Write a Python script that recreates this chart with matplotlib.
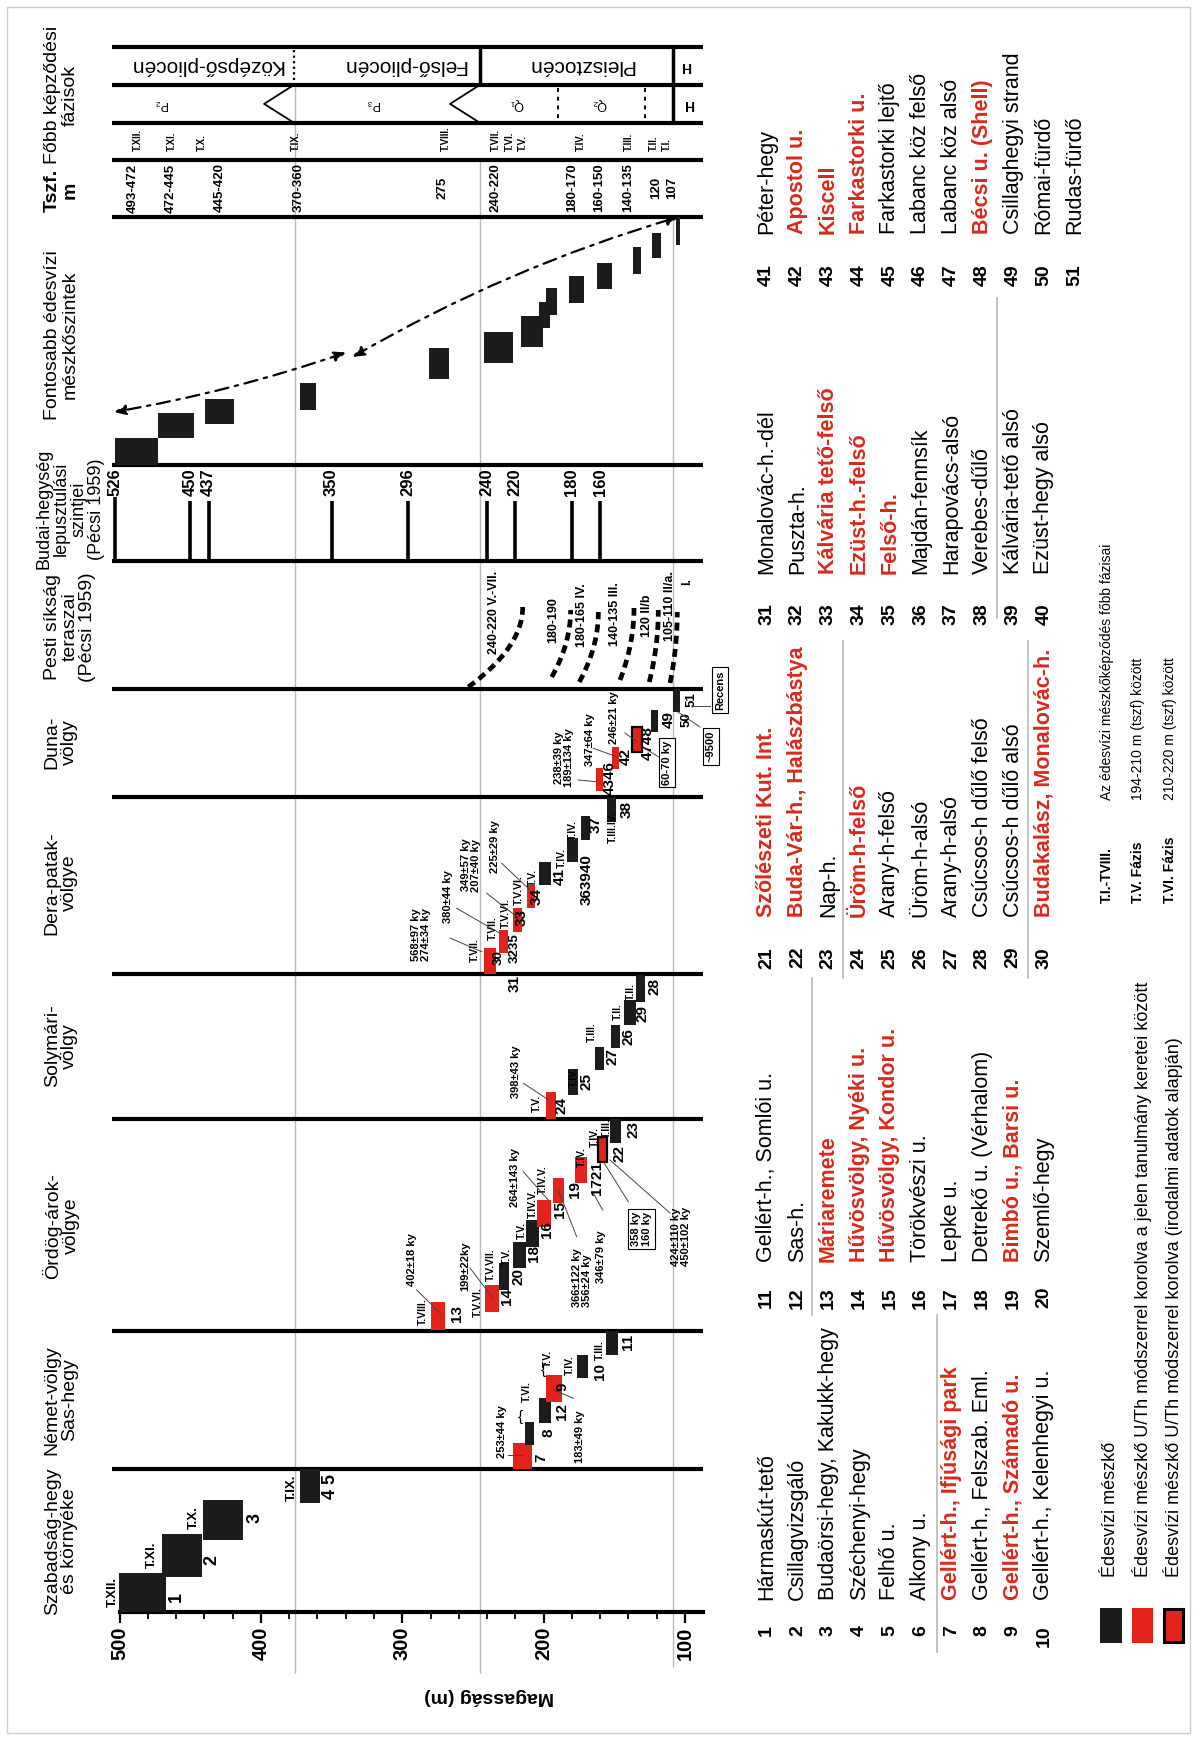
import matplotlib
matplotlib.use("Agg")
import matplotlib.pyplot as plt
from matplotlib.patches import Rectangle
import numpy as np

plt.rcParams["font.family"] = ["Liberation Sans", "DejaVu Sans"]

BLACK = "#1c1c1c"
RED = "#e3231b"
TXT_RED = "#d52b1e"
GRID = "#b8b8b8"

# ---------------------------------------------------------------------------
# édesvízi mészkő előfordulások (m tszf.)
# k = nem korolt, r = U/Th korolt (jelen munka), rb = U/Th korolt (irodalom)
site_ids = ["1", "2", "3", "4 5",
            "7", "8", "12", "9", "10", "11",
            "13", "14", "20", "18", "16", "15", "19", "17 21", "22", "23",
            "24", "25", "27", "26", "29", "28",
            "30 31", "32 35", "33", "34", "41", "36 39 40", "37", "38",
            "43 46", "42", "47 48", "49", "50 51"]
site_low = [467, 442, 413, 358,
            208.5, 207, 194.5, 187, 168.5, 147.5,
            270, 231.5, 224.5, 212.5, 203, 194.5, 185.5, 169, 155.5, 145,
            191, 176, 157.5, 146, 134.5, 128.5,
            234, 225.5, 215.5, 206, 194.5, 176, 167, 149,
            158, 146.5, 130.5, 119, 103.5]
site_high = [500, 470, 441, 372,
             222, 213.5, 203, 198, 176.5, 156,
             280, 241.5, 231.5, 222, 212.5, 205, 193.5, 178, 161.5, 153,
             198.5, 182.5, 164, 152.5, 143, 134.5,
             242, 231.5, 221.5, 211.5, 203, 183.5, 173.5, 155.5,
             163, 152, 137.5, 124, 108.5]
site_kind = ["k", "k", "k", "k",
             "r", "k", "k", "r", "k", "k",
             "r", "r", "k", "k", "k", "r", "r", "r", "rb", "k",
             "r", "k", "k", "k", "k", "k",
             "r", "r", "r", "r", "k", "k", "k", "k",
             "r", "r", "rb", "k", "k"]

# fontosabb mészkőszintek
level_low = [472.5, 447.5, 419, 361, 267, 221.5, 200.5, 195.5, 190.5, 171.5, 152, 131, 117, 103.5]
level_high = [503, 472.5, 439.5, 372, 281, 242, 216, 203, 198, 182, 162.5, 137, 123.5, 106.5]

# Budai-hegység lepusztulási szintjei (Pécsi 1959)
budai_levels = [526, 450, 437, 350, 296, 240, 220, 180, 160]
SCALE_TOP = 503.5   # a skála bal széle; az e fölötti szint a keret szélére kerül

# Pesti síkság teraszai: felső és alsó vég magassága
terrace_names = ["240-220 V.-VII.", "180-190", "180-165 IV.", "140-135 III.", "120 II/b", "105-110 II/a."]
terrace_from = [253.3, 194.3, 174.8, 146.0, 125.3, 110.6]
terrace_to = [214.8, 180.9, 161.3, 136.1, 118.9, 105.5]

# Tszf. magasságok és fázisok
tszf_text = ["493-472", "472-445", "445-420", "370-360", "275", "240-220",
             "180-170", "160-150", "140-135", "120", "107"]
tszf_elev = [490.5, 463.7, 429.3, 373.5, 271.8, 234.4, 180.2, 160.7, 140.3, 120.1, 108.8]
phase_text = ["T.XII.", "T.XI.", "T.X.", "T.IX.", "T.VIII.", "T.VII.", "T.VI.",
              "T.V.", "T.IV.", "T.III.", "T.II.", "T.I."]
phase_elev = [487.1, 462.9, 441.6, 375.2, 269.5, 233.8, 224.1, 215.0, 173.7, 139.6, 121.7, 112.9]

# lelőhelyek
places = ["Hármaskút-tető", "Csillagvizsgáló", "Budaörsi-hegy, Kakukk-hegy", "Széchenyi-hegy",
          "Felhő u.", "Alkony u.", "Gellért-h., Ifjúsági park", "Gellért-h., Felszab. Eml.",
          "Gellért-h., Számadó u.", "Gellért-h., Kelenhegyi u.",
          "Gellért-h., Somlói u.", "Sas-h.", "Máriaremete", "Hűvösvölgy, Nyéki u.",
          "Hűvösvölgy, Kondor u.", "Törökvészi u.", "Lepke u.", "Detrekő u. (Vérhalom)",
          "Bimbó u., Barsi u.", "Szemlő-hegy",
          "Szőlészeti Kut. Int.", "Buda-Vár-h., Halászbástya", "Nap-h.", "Üröm-h-felső",
          "Arany-h-felső", "Üröm-h-alsó", "Arany-h-alsó", "Csúcsos-h dűlő felső",
          "Csúcsos-h dűlő alsó", "Budakalász, Monalovác-h.",
          "Monalovác-h.-dél", "Puszta-h.", "Kálvária tető-felső", "Ezüst-h.-felső",
          "Felső-h.", "Majdán-fennsík", "Harapovács-alsó", "Verebes-dűlő",
          "Kálvária-tető alsó", "Ezüst-hegy alsó",
          "Péter-hegy", "Apostol u.", "Kiscell", "Farkastorki u.", "Farkastorki lejtő",
          "Labanc köz felső", "Labanc köz alsó", "Bécsi u. (Shell)", "Csillaghegyi strand",
          "Római-fürdő", "Rudas-fürdő"]
dated_places = [7, 9, 13, 14, 15, 19, 21, 22, 24, 30, 33, 34, 35, 42, 43, 44, 48]

# ---------------------------------------------------------------------------
# elrendezés (px, felülről)
W, H = 1195, 1738
X500, PX_M = 119.5, 1.4138
E_LEFT = 500 + X500 / PX_M
E_RIGHT = 500 - (W - X500) / PX_M
Y_AXIS = 1611.7
E_END = 87.6

site_top = [1573, 1534, 1500, 1469,
            1443, 1422, 1398, 1375, 1355, 1331,
            1302, 1285, 1263, 1242, 1220, 1200, 1178, 1157, 1137, 1119,
            1092, 1069, 1047, 1025, 1000, 975,
            948, 930, 908, 885, 862, 838, 816, 797,
            768, 747, 727, 710, 689]
site_bot = [1612, 1577, 1540, 1503,
            1469, 1445, 1423, 1402, 1378, 1355,
            1330, 1312, 1290, 1268, 1247, 1227, 1203, 1183, 1162, 1143,
            1119, 1095, 1070, 1048, 1025, 1002,
            974, 953, 932, 908, 885, 862, 840, 822,
            791, 769, 752, 732, 712]
level_top = [438, 413, 399, 383, 348, 332, 316, 302, 288, 276, 263, 247, 233, 217]
level_bot = [465, 438, 424, 410, 379, 363, 347, 328, 315, 303, 289, 274, 258, 245]
terrace_y0 = [687, 677, 682, 680, 682, 683]
terrace_y1 = [607, 610, 612, 608, 610, 612]

separators = [46.7, 85, 122.7, 160, 216.7, 465, 560.7, 688.5, 796.7, 974, 1118.5, 1331, 1468.5]

fig = plt.figure(figsize=(W / 100, H / 100), dpi=100)
fig.patch.set_facecolor("white")
ax = fig.add_axes([0, 0, 1, 1])
ax.set_xlim(E_LEFT, E_RIGHT)
ax.set_ylim(H, 0)
ax.patch.set_visible(False)
for s in ("top", "left", "right"):
    ax.spines[s].set_visible(False)
ax.spines["bottom"].set_position(("data", Y_AXIS))
ax.spines["bottom"].set_bounds(E_END, 500)
ax.spines["bottom"].set_linewidth(3)
ax.yaxis.set_visible(False)
ax.set_xticks([500, 400, 300, 200, 100])
ax.set_xticks([v for v in range(120, 500, 20) if v % 100], minor=True)
ax.tick_params(axis="x", which="major", length=8, width=1.6, pad=3,
               labelsize=14.5, labelrotation=90)
ax.tick_params(axis="x", which="minor", length=5, width=1.3)
for t in ax.get_xticklabels():
    t.set_fontweight("bold")

lay = fig.add_axes([0, 0, 1, 1], zorder=3)
lay.set_xlim(0, W)
lay.set_ylim(H, 0)
lay.axis("off")


def ptext(x, y, s, size, color="k", weight="bold", rot=90, ha="center", va="center", **kw):
    lay.text(x, y, s, fontsize=size, color=color, fontweight=weight, rotation=rot,
             ha=ha, va=va, rotation_mode="anchor", **kw)


# keret
lay.add_patch(Rectangle((7, 7), 1183, 1726, fill=False, ec="#cccccc", lw=1))

# szürke segédvonalak
ax.vlines(376, 85, 1673, color=GRID, lw=1, zorder=0)
ax.vlines(245, 160, 1673, color=GRID, lw=1, zorder=0)
ax.vlines(108.5, 216.7, 1667, color=GRID, lw=1, zorder=0)

# vízszintes elválasztók
for y in separators:
    ax.hlines(y, 505, E_END, color="k", lw=3, zorder=2)

# fejléc: korszakhatárok
ax.vlines(245.2, 46.7, 85, color="k", lw=2.5)
ax.vlines(108.8, 46.7, 122.7, color="k", lw=2.5)
ax.vlines(376.7, 50, 82, color="k", lw=1.6, ls=(0, (1, 1.5)))
ax.vlines([190, 128.3], 88, 120, color="k", lw=1.4, ls=(0, (2, 2.5)))
for e in (376.7, 245.2):
    ax.plot([e, e + 21, e], [85, 103.9, 122.7], color="k", lw=1.3)

for e, s in [(438.4, "Középső-pliocén"), (298.8, "Felső-pliocén"), (173.7, "Pleisztocén")]:
    ax.text(e, 66, s, rotation=180, ha="center", va="center", fontsize=15)
ax.text(99, 66, "H", rotation=180, ha="center", va="center", fontsize=10, fontweight="bold")
for e, s in [(470.9, "P₂"), (321.5, "P₃"), (219.2, "Q₁"), (160.7, "Q₂")]:
    ax.text(e, 104, s, rotation=180, ha="center", va="center", fontsize=9)
ax.text(97.4, 104, "H", rotation=180, ha="center", va="center", fontsize=10, fontweight="bold")

for e, s in zip(phase_elev, phase_text):
    ax.text(e, 151, s, rotation=90, ha="left", va="center", rotation_mode="anchor",
            fontsize=7, fontweight="bold")
for e, s in zip(tszf_elev, tszf_text):
    ax.text(e, 188, s, rotation=90, ha="center", va="center", rotation_mode="anchor",
            fontsize=9.5, fontweight="bold")

# édesvízi mészkő előfordulások
colors = {"k": BLACK, "r": RED, "rb": RED}
for lo, hi, kind, yt, yb in zip(site_low, site_high, site_kind, site_top, site_bot):
    ax.barh((yt + yb) / 2, hi - lo, left=lo, height=yb - yt, color=colors[kind],
            edgecolor="k" if kind == "rb" else "none", linewidth=1.6 if kind == "rb" else 0,
            zorder=3)

# fontosabb mészkőszintek
for lo, hi, yt, yb in zip(level_low, level_high, level_top, level_bot):
    ax.barh((yt + yb) / 2, hi - lo, left=lo, height=yb - yt, color=BLACK, zorder=3)

arrow = dict(arrowstyle="<|-|>,head_length=0.7,head_width=0.3", color="k", lw=1.6,
             linestyle=(0, (6, 3, 1.5, 3)), shrinkA=0, shrinkB=0)
ax.annotate("", xy=(503.9, 412), xytext=(339.8, 352.5),
            arrowprops=dict(arrow, connectionstyle="arc3,rad=-0.04"))
ax.annotate("", xy=(104.6, 217), xytext=(335.2, 357),
            arrowprops=dict(arrow, connectionstyle="arc3,rad=-0.06"))

# lepusztulási szintek (a skálán túli szint a keret szélén)
for v in budai_levels:
    e = min(v, SCALE_TOP)
    ax.vlines(e, 497 if v > SCALE_TOP else 501, 560.7, color="k", lw=2.6)
    ax.text(e, 482, str(v), rotation=90, ha="center", va="center",
            rotation_mode="anchor", fontsize=12, fontweight="bold")

# teraszok
for e0, e1, y0, y1, s in zip(terrace_from, terrace_to, terrace_y0, terrace_y1, terrace_names):
    t = np.linspace(0, 1, 40)
    ax.plot(e1 + (e0 - e1) * (1 - t) ** 2, y0 + (y1 - y0) * t, color="k", lw=3.4,
            ls=(0, (1.7, 1.1)), solid_capstyle="butt")
terrace_lab = [(494, 612.5), (553.3, 620), (581.7, 615.5), (615, 614), (646.7, 615.5), (670, 606.5)]
for (x, y), s in zip(terrace_lab, terrace_names):
    ptext(x, y, s, 9)
ptext(687.3, 581.5, "I.", 9)

# feliratok a szelvényben: (x, y, szöveg, méret)
labels = [
    (112.5, 1592, "T.XII.", 9.5), (176.8, 1596.7, "1", 13), (151.5, 1555, "T.XI.", 9.5),
    (212, 1560, "2", 13), (193.8, 1518, "T.X.", 9.5), (254.8, 1518, "3", 13),
    (291.6, 1488, "T.IX.", 9.5), (330.6, 1486.7, "4 5", 13),
    (541, 1458, "7", 11), (548.3, 1433, "8", 11), (561.7, 1411.7, "12", 11),
    (562.7, 1386.7, "9", 11), (600, 1371, "10", 11), (600, 1350, "T.III.", 7.5),
    (628.3, 1342, "11", 11), (570, 1365, "T.IV.", 7.5), (548.3, 1358, "T.V.", 7.5),
    (526.7, 1391, "T.VI.", 7.5), (501.7, 1431.7, "253±44 ky", 8), (580, 1436.7, "183±49 ky", 8),
    (456.7, 1313.3, "13", 11), (423.3, 1311.7, "T.VIII.", 7.5), (411.7, 1260, "402±18 ky", 8),
    (506.7, 1296.7, "14", 11), (478.3, 1302.5, "T.V.VI.", 7.5), (491, 1265, "T.V.VII.", 7.5),
    (465, 1266.7, "199±22ky", 8), (518.3, 1276.7, "20", 11), (506.7, 1256, "T.V.", 7.5),
    (534, 1253.3, "18", 11), (521.7, 1230, "T.V.", 7.5), (546.7, 1230, "16", 11),
    (560, 1210, "15", 11), (575, 1190, "19", 11), (533.3, 1203.3, "T.IV.V.", 7.5),
    (543.3, 1180, "T.IV.V.", 7.5), (515, 1177.5, "264±143 ky", 8), (596.7, 1178, "1721", 11),
    (581.7, 1156.7, "T.IV.", 7.5), (601.5, 1256.7, "346±79 ky", 8),
    (619.3, 1153.3, "22", 11), (595, 1137, "T.IV.", 7.5),
    (606.7, 1128, "T.III.", 7.5), (633.3, 1130, "23", 11), (681, 1236.7, "424±110 ky\n450±102 ky", 8),
    (562, 1106, "24", 11), (537, 1103, "T.V.", 7.5), (516.5, 1072, "398±43 ky", 8),
    (586.8, 1081.7, "25", 11), (573.9, 1077, "T.IV.", 7.5), (613, 1056.7, "27", 11),
    (592.3, 1031.7, "T.III.", 7.5), (629, 1036.7, "26", 11), (617.5, 1011.7, "T.II.", 7.5),
    (642.8, 1013.3, "29", 11), (631.3, 991, "T.II.", 7.5), (654.3, 986.7, "28", 11),
    (475, 950, "T.VII.", 7.5), (499, 958, "30", 9.5), (515, 948, "3235", 9.5),
    (515, 983, "31", 11), (492.7, 928, "T.VII.", 7.5), (506, 913, "T.V.VI.", 7.5),
    (521.7, 917, "33", 11), (519.3, 890, "T.V.VI.", 7.5), (533.3, 877, "T.V.", 7.5),
    (536.7, 896.7, "34", 11), (560, 876.7, "41", 11), (561.7, 857.5, "T.IV.", 7.5),
    (586.7, 880, "363940", 11), (573.3, 830, "T.IV.", 7.5), (596, 825, "37", 11),
    (613.3, 827.5, "T.III.IV.", 7.5), (626.7, 809, "38", 11),
    (421, 935, "568±97 ky\n274±34 ky", 8), (448.3, 896.7, "380±44 ky", 8),
    (471, 865, "349±57 ky\n207±40 ky", 8), (495, 846.7, "225±29 ky", 8),
    (610, 778, "4346", 11), (626, 756.7, "42", 11), (647.7, 743, "4748", 11), (668.3, 720, "49", 11),
    (564, 758, "238±39 ky\n189±134 ky", 8), (590, 740, "347±64 ky", 8),
    (614, 718, "246±21 ky", 8), (691.7, 700, "51", 9.5), (686.7, 720, "50", 9.5),
]
for x, y, s, size in labels:
    ptext(x, y, s, size, linespacing=1.0)
ptext(582, 1306.7, "366±122 ky\n356±24 ky", 8, ha="left", linespacing=1.0)
for x, y in [(543.3, 1370), (520, 1417)]:
    ptext(x, y, "{", 11, rot=0, weight="normal")

box = dict(boxstyle="square,pad=0.25", fc="white", ec="k", lw=0.8)
for x, y, s in [(641.7, 1229, "358 ky\n160 ky"), (667, 762.5, "60-70 ky"),
                (711, 746.7, "~9500"), (720, 690, "Recens")]:
    ptext(x, y, s, 8, bbox=box)

leaders = [((508.3, 1455), (521.7, 1455)), ((573.3, 1398.3), (554, 1390)),
           ((416.7, 1290), (440, 1313)), ((470, 1268), (492, 1297)),
           ((523.3, 1171.7), (548.3, 1200)), ((576.7, 1236.7), (558.3, 1190)),
           ((602.7, 1210), (593.3, 1193.3)), ((628.3, 1201.7), (603.3, 1161.7)),
           ((670, 1213), (610, 1160)), ((523.4, 1083.3), (548.7, 1100)),
           ((450, 938), (481.7, 951.7)), ((456.7, 908.3), (500, 933.3)),
           ((486.7, 893.3), (516.7, 916.7)), ((501.7, 863.3), (530, 890)),
           ((578.3, 780), (596.7, 781.7)), ((593.3, 748.3), (616.7, 756.7)),
           ((625, 733), (636.7, 741.7)), ((658.3, 756.7), (641, 746)),
           ((700, 727), (678, 712)), ((693.3, 705.7), (710, 705.7))]
for (x0, y0), (x1, y1) in leaders:
    lay.plot([x0, x1], [y0, y1], color="#444444", lw=0.7, zorder=4)

# szelvény-szakaszok nevei
sections = [("Főbb képződési\nfázisok", 61, 95, "normal", 14),
            ("Tszf.\nm", 61, 190, "bold", 14),
            ("Fontosabb édesvízi\nmészkőszintek", 61, 335, "normal", 14),
            ("Budai-hegység\nlepusztulási\nszintjei\n(Pécsi 1959)", 70, 509, "normal", 13),
            ("Pesti síkság\nteraszai\n(Pécsi 1959)", 70, 627, "normal", 14),
            ("Duna-\nvölgy", 61, 742, "normal", 14),
            ("Dera-patak-\nvölgye", 61, 883, "normal", 14),
            ("Solymári-\nvölgy", 61, 1046, "normal", 14),
            ("Ördög-árok-\nvölgye", 61, 1226, "normal", 14),
            ("Német-völgy\nSas-hegy", 61, 1400, "normal", 14),
            ("Szabadság-hegy\nés környéke", 61, 1541, "normal", 14)]
for s, x, y, w, size in sections:
    ptext(x, y, s, size, weight=w, linespacing=1.05, multialignment="center")

ptext(489, 1697, "Magasság (m)", 14, rot=180)

# lelőhely-táblázat
block_y = [(1600, 1625), (1262, 1287), (917, 947), (574, 603), (234, 264)]
for i, name in enumerate(places):
    num = i + 1
    blk = min(i // 10, 4)
    row = i - blk * 10
    x = 766.7 + 30.8 * row
    yn, yk = block_y[blk]
    red = num in dated_places
    ptext(x, yk, str(num), 14, ha="right")
    ptext(x, yn, name, 15.5, color=TXT_RED if red else "k",
          weight="bold" if red else "normal", ha="left")

for x, y0, y1 in [(812, 978, 1315), (937, 1315, 1652), (843, 641, 978),
                  (1028, 641, 978), (997, 298, 618)]:
    lay.plot([x, x], [y0, y1], color=GRID, lw=1.2)

# jelmagyarázat
lay.add_patch(Rectangle((1100, 1607.5), 21.7, 35.5, fc=BLACK, ec="none"))
lay.add_patch(Rectangle((1131.7, 1607.5), 21.7, 35.5, fc=RED, ec="none"))
lay.add_patch(Rectangle((1164, 1608.5), 19.5, 33.5, fc=RED, ec="k", lw=2.2))
legend_text = ["Édesvízi mészkő",
               "Édesvízi mészkő U/Th módszerrel korolva a jelen tanulmány keretei között",
               "Édesvízi mészkő U/Th módszerrel korolva (irodalmi adatok alapján)"]
for x, s in zip([1110.8, 1142.5, 1173.3], legend_text):
    ptext(x, 1577, s, 13, weight="normal", ha="left")

for x, a, b in [(1106.7, "T.I.-TVIII.", "Az édesvízi mészkőképződés főbb fázisai"),
                (1138, "T.V. Fázis", "194-210 m (tszf) között"),
                (1170, "T.VI. Fázis", "210-220 m (tszf) között")]:
    ptext(x, 903, a, 10, ha="left")
    ptext(x, 800, b, 10, weight="normal", ha="left")

fig.savefig("out.png", dpi=100, facecolor="white")
